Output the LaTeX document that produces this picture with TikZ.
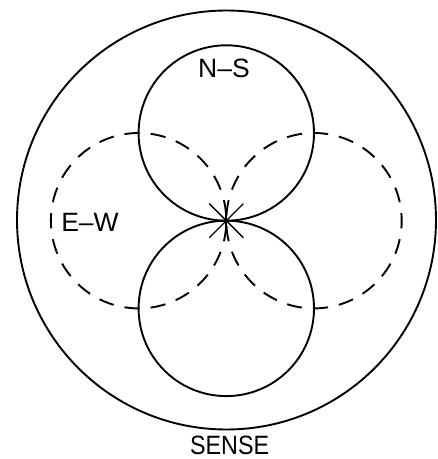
\documentclass[tikz,border=0pt]{standalone}
\usepackage{fontspec}
\setmainfont{Liberation Sans}
\usetikzlibrary{calc}
\begin{document}
\begin{tikzpicture}[x=1pt,y=1pt,
  solidline/.style={line width=1.9pt},
  dashline/.style={line width=1.9pt, dash pattern=on 15.24pt off 11pt},
  lbl/.style={inner sep=0pt, anchor=base, font=\fontsize{26.5}{30}\selectfont}]
\useasboundingbox (0,0) rectangle (438,459);
% centre of the pattern
\coordinate (c) at (226.3,238.3);
% outer sense circle
\draw[solidline] (226.5,239) circle (209.5);
% N-S lobes
\draw[solidline] (226.3,326) circle (87.7);
\draw[solidline] (226.3,150.6) circle (87.7);
% E-W lobes (dashed)
\draw[dashline, dash phase=20.74pt] (138.6,238.3) circle (87.7);
\draw[dashline, dash phase=7.62pt] (314,238.3) circle (87.7);
% star at centre
\draw[line width=1.3pt] ($(c)+(-17,17)$) -- ($(c)+(17,-17)$);
\draw[line width=1.3pt] ($(c)+(-17,-17)$) -- ($(c)+(17,17)$);
\draw[line width=1.9pt] ($(c)+(0,8)$) -- ($(c)+(0,-8)$);
% labels
\node[lbl] (ns) at (224,381.7) {N–S};
\node[lbl] (ew) at (90,227.3) {E–W};
\node[lbl, xscale=0.88] (sense) at (229.6,5) {SENSE};
\end{tikzpicture}
\end{document}
